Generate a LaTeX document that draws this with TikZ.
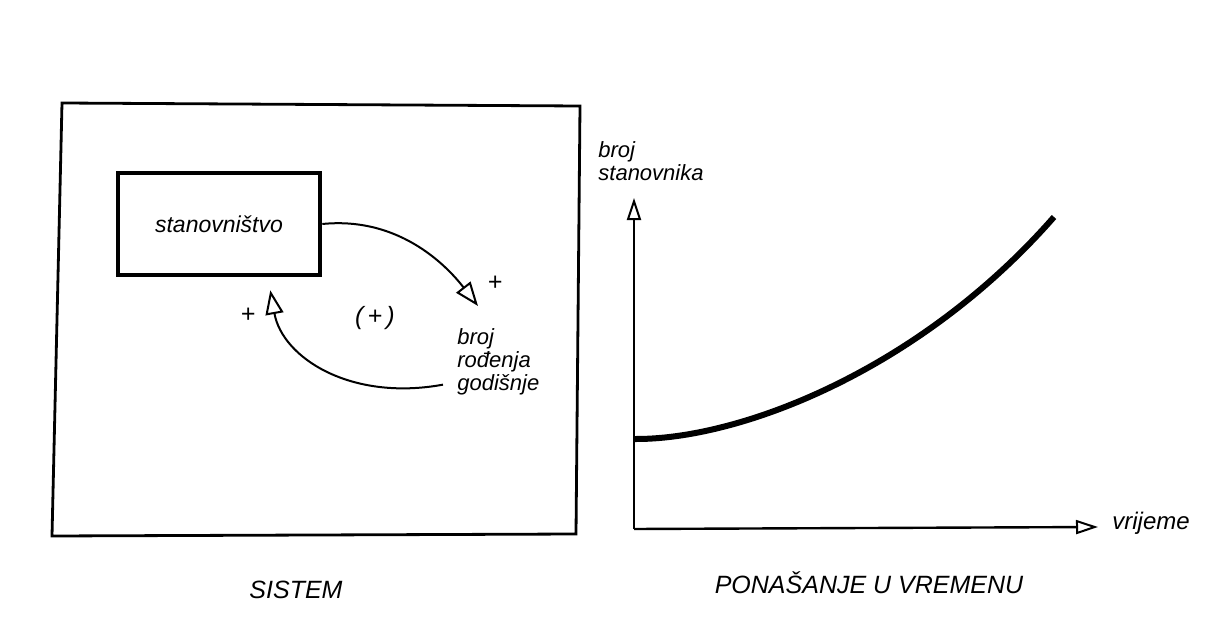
\documentclass[tikz,border=0pt]{standalone}
\usepackage{fontspec}
\setmainfont{Liberation Sans}
\usepackage{tikz}
\usetikzlibrary{arrows.meta, positioning, calc}
\tikzset{
	% system diagram styles
	frame/.style   ={draw=black, line width=1.4pt, line join=miter},
	stock/.style   ={rectangle, draw=black, line width=2.3pt, minimum width=101pt, minimum height=51pt, font=\fontsize{11.5}{13}\selectfont\itshape},
	lbl/.style     ={align=left, inner sep=0pt, font=\fontsize{11}{11.5}\selectfont\itshape},
	sign/.style    ={inner sep=0pt, font=\fontsize{12.5}{14}\selectfont\itshape},
	causal/.style  ={-{Triangle[open, length=12pt, width=9pt, line width=1pt]}, line width=1pt},
	caption/.style ={inner sep=0pt, font=\fontsize{12.5}{14}\selectfont\itshape},
	% graph styles
	axis/.style    ={-{Triangle[open, length=11pt, width=7pt, line width=1pt]}, line width=1.2pt},
	growth/.style  ={line width=3pt},
}
\begin{document}
\begin{tikzpicture}[x=0.5pt, y=-0.5pt]
	\useasboundingbox (0,0) rectangle (1216,626);
	% sistem
	\draw[frame] (62,103) -- (580,106) -- (576,534) -- (52,536) -- cycle;
	\node[stock] (pop) at (219,224) {stanovništvo};
	\node[lbl, anchor=north west] (births) at (457,328) {broj\\rođenja\\godišnje};
	\draw[causal] (pop.east) .. controls +(80,-8) and +(-28,-36) .. ($(births.north west)+(21,-22)$);
	\draw[causal] ($(births.west)+(-14,23)$) .. controls +(-93,17) and +(12,67) .. ($(pop.south east)+(-52,13)$);
	\node[sign] (plusA) at (495,283) {+};
	\node[sign] (plusB) at (248,315) {+};
	\node[sign] (loop) at (375,318) {(\,+\,)};
	\node[caption] (sys) at (296,590) {SISTEM};
	% ponasanje u vremenu
	\coordinate (O) at (634,529);
	\coordinate (ytip) at (634,198);
	\coordinate (xtip) at (1098,527);
	\draw[axis] (O) -- (ytip);
	\draw[axis] (O) -- (xtip);
	\node[lbl, anchor=north west] (ylab) at (598,141) {broj\\stanovnika};
	\node[lbl, anchor=west, font=\fontsize{12}{13}\selectfont\itshape] (xlab) at ($(xtip)+(14,-4)$) {vrijeme};
	\draw[growth] (634,439) .. controls (740,440) and (920,370) .. (1054,217);
	\node[caption] (beh) at (869,583) {PONAŠANJE U VREMENU};
\end{tikzpicture}
\end{document}
